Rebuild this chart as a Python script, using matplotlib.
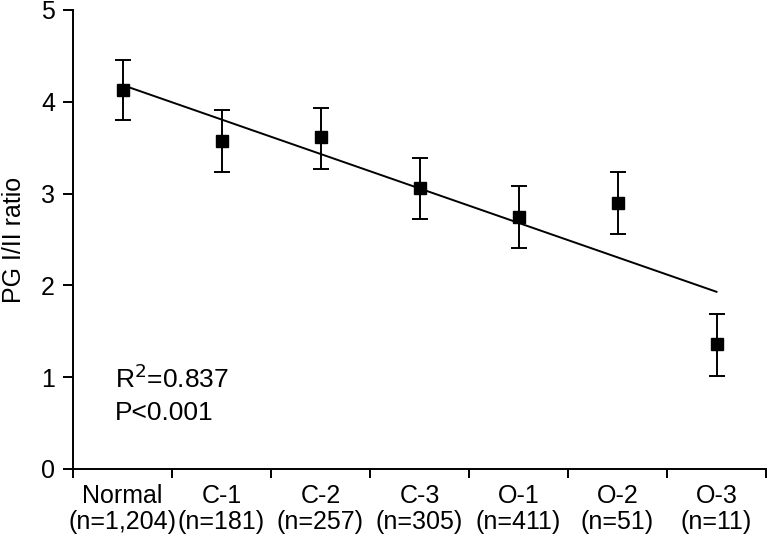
import numpy as np
import matplotlib
matplotlib.use("Agg")
import matplotlib.pyplot as plt

plt.rcParams["font.family"] = ["Liberation Sans", "DejaVu Sans"]

# group labels and read-off means / error half-widths
groups = ["Normal", "C-1", "C-2", "C-3", "O-1", "O-2", "O-3"]
counts = ["n=1,204", "n=181", "n=257", "n=305", "n=411", "n=51", "n=11"]
means = [4.13, 3.575, 3.615, 3.06, 2.75, 2.90, 1.365]
err_hi = [0.32, 0.335, 0.32, 0.33, 0.33, 0.33, 0.325]
err_lo = [0.33, 0.335, 0.345, 0.34, 0.34, 0.34, 0.355]
r2_text = "R$^2$=0.837"
p_text = "P<0.001"

x = np.arange(len(groups))
labels = [f"{g}\n({c})" for g, c in zip(groups, counts)]

W, H = 769, 546
fig = plt.figure(figsize=(W / 100, H / 100), dpi=100)
ax = fig.add_axes([73 / W, 1 - 469 / H, 693 / W, 459 / H])

ax.errorbar(x, means, yerr=[err_lo, err_hi], fmt="s", color="black",
            markersize=8.5, elinewidth=1.4, capsize=5.5, capthick=1.4)

# linear regression line over the group means
slope, icpt = np.polyfit(x, means, 1)
ax.plot(x[[0, -1]], icpt + slope * x[[0, -1]], color="black", lw=1.4)

ax.set_xlim(-0.5, len(groups) - 0.5)
ax.set_ylim(0, 5)
ax.set_yticks(range(6))
ax.set_xticks(np.arange(len(groups) + 1) - 0.5)
ax.set_xticklabels([])
ax.set_xticks(x, minor=True)
ax.set_xticklabels(labels, minor=True, fontsize=18, linespacing=1.1)
ax.tick_params(axis="x", which="major", length=6.5, width=1.4, direction="out")
ax.tick_params(axis="x", which="minor", length=0, pad=11)
ax.tick_params(axis="y", length=7, width=1.4, labelsize=18, pad=6)

for side in ("top", "right"):
    ax.spines[side].set_visible(False)
for side in ("left", "bottom"):
    ax.spines[side].set_linewidth(1.4)

ax.set_ylabel("PG I/II ratio", fontsize=18, labelpad=6)
ax.yaxis.set_label_coords(-47 / 693 - 0.0, 0.5)

fig.text(115 / W, 1 - 388 / H, r2_text, fontsize=19, va="baseline", ha="left")
fig.text(115 / W, 1 - 420 / H, p_text, fontsize=19, va="baseline", ha="left")

fig.savefig("out.png", dpi=100)
